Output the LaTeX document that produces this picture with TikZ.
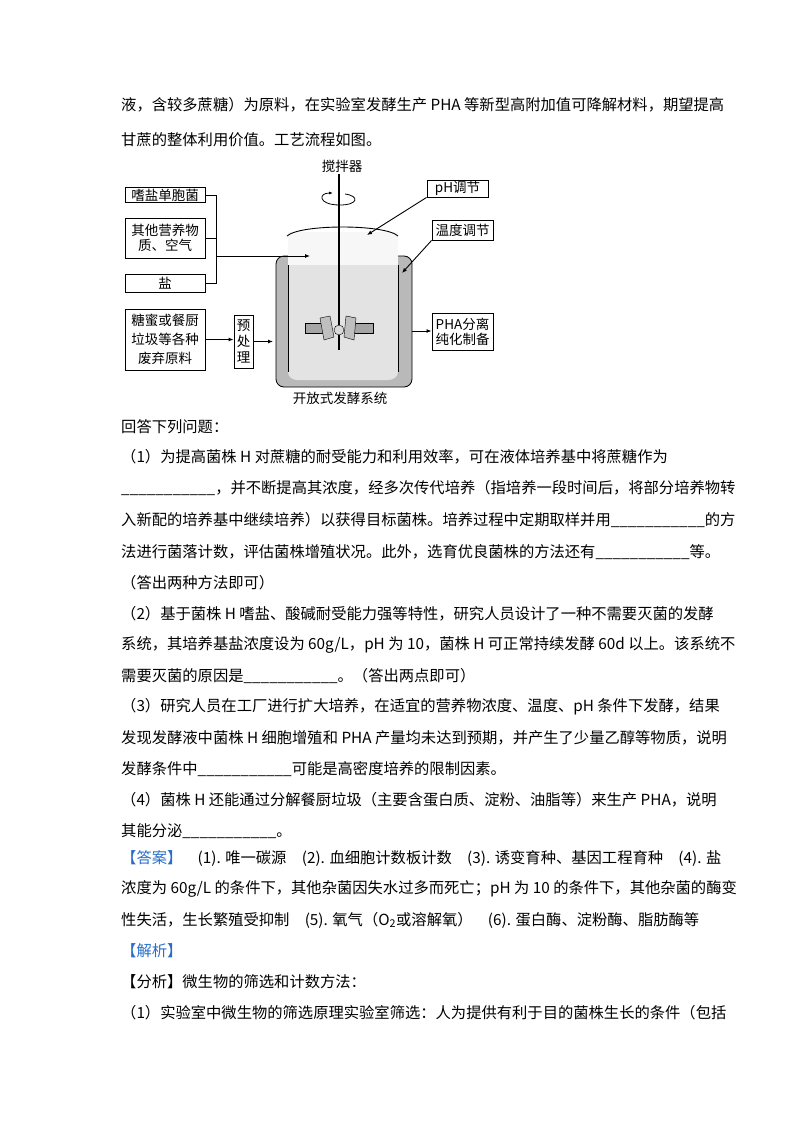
\documentclass[tikz,border=0pt]{standalone}
\usepackage{fontspec}
\setmainfont{Noto Sans CJK SC}
\newfontfamily\cjk{Noto Sans CJK SC}
\usetikzlibrary{arrows.meta}
\definecolor{ansblue}{RGB}{40,110,200}
\begin{document}
\begin{tikzpicture}[x=1pt,y=-1pt,
  line/.style={anchor=west,inner sep=0pt,font=\fontsize{15.3}{15}\selectfont},
  fbox/.style={draw,line width=0.9pt,inner sep=1pt,align=center,font=\fontsize{13.5}{15}\selectfont},
  arr/.style={-{Latex[length=5pt,width=4pt]},line width=0.9pt}]
\useasboundingbox (0,0) rectangle (800,1132);
\fill[white] (0,0) rectangle (800,1132);
% text lines
\node[line] (l1) at (121,105) {液，含较多蔗糖）为原料，在实验室发酵生产 PHA 等新型高附加值可降解材料，期望提高};
\node[line] (l2) at (121,140) {甘蔗的整体利用价值。工艺流程如图。};
\node[line] (l3) at (121,427) {回答下列问题：};
\node[line] (l4) at (121,457) {（1）为提高菌株 H 对蔗糖的耐受能力和利用效率，可在液体培养基中将蔗糖作为};
\node[line] (l5) at (121,488) {\_\_\_\_\_\_\_\_\_\_\_，并不断提高其浓度，经多次传代培养（指培养一段时间后，将部分培养物转};
\node[line] (l6) at (121,520) {入新配的培养基中继续培养）以获得目标菌株。培养过程中定期取样并用\_\_\_\_\_\_\_\_\_\_\_的方};
\node[line] (l7) at (121,552) {法进行菌落计数，评估菌株增殖状况。此外，选育优良菌株的方法还有\_\_\_\_\_\_\_\_\_\_\_等。};
\node[line] (l8) at (121,583) {（答出两种方法即可）};
\node[line] (l9) at (121,614) {（2）基于菌株 H 嗜盐、酸碱耐受能力强等特性，研究人员设计了一种不需要灭菌的发酵};
\node[line] (l10) at (121,645) {系统，其培养基盐浓度设为 60g/L，pH 为 10，菌株 H 可正常持续发酵 60d 以上。该系统不};
\node[line] (l11) at (121,676) {需要灭菌的原因是\_\_\_\_\_\_\_\_\_\_\_。（答出两点即可）};
\node[line] (l12) at (121,707) {（3）研究人员在工厂进行扩大培养，在适宜的营养物浓度、温度、pH 条件下发酵，结果};
\node[line] (l13) at (121,738) {发现发酵液中菌株 H 细胞增殖和 PHA 产量均未达到预期，并产生了少量乙醇等物质，说明};
\node[line] (l14) at (121,769) {发酵条件中\_\_\_\_\_\_\_\_\_\_\_可能是高密度培养的限制因素。};
\node[line] (l15) at (121,800) {（4）菌株 H 还能通过分解餐厨垃圾（主要含蛋白质、淀粉、油脂等）来生产 PHA，说明};
\node[line] (l16) at (121,831) {其能分泌\_\_\_\_\_\_\_\_\_\_\_。};
\node[line] (l17) at (121,858) {\textcolor{ansblue}{【答案】}\quad (1). 唯一碳源\quad (2). 血细胞计数板计数\quad (3). 诱变育种、基因工程育种\quad (4). 盐};
\node[line] (l18) at (121,889) {浓度为 60g/L 的条件下，其他杂菌因失水过多而死亡；pH 为 10 的条件下，其他杂菌的酶变};
\node[line] (l19) at (121,920) {性失活，生长繁殖受抑制\quad (5). 氧气（O\textsubscript{2}或溶解氧）\quad (6). 蛋白酶、淀粉酶、脂肪酶等};
\node[line] (l20) at (121,951) {\textcolor{ansblue}{【解析】}};
\node[line] (l21) at (121,982) {【分析】微生物的筛选和计数方法：};
\node[line] (l22) at (121,1013) {（1）实验室中微生物的筛选原理实验室筛选：人为提供有利于目的菌株生长的条件（包括};
% diagram
\node[fbox,minimum width=80pt,minimum height=15pt] (b1) at (165,195) {嗜盐单胞菌};
\node[fbox,minimum width=80pt,minimum height=40pt] (b2) at (165,238) {其他营养物\\质、空气};
\node[fbox,minimum width=80pt,minimum height=18pt] (b3) at (165,283) {盐};
\node[fbox,minimum width=80pt,minimum height=61pt,font=\fontsize{13.5}{19}\selectfont] (b4) at (165,339.5) {糖蜜或餐厨\\垃圾等各种\\废弃原料};
\node[fbox,minimum width=19pt,minimum height=53pt,text width=14pt,font=\fontsize{13.5}{16}\selectfont] (b5) at (243.5,341.5) {预\\处\\理};
\node[fbox,minimum width=61pt,minimum height=17pt] (b6) at (457.5,188.5) {pH调节};
\node[fbox,minimum width=61pt,minimum height=20pt] (b7) at (462.5,230) {温度调节};
\node[fbox,minimum width=61pt,minimum height=37pt] (b8) at (462.5,331.5) {PHA分离\\纯化制备};
% tank
\fill[gray!55,draw=black,line width=0.8pt,rounded corners=8pt] (276,256) rectangle (412,387);
\fill[gray!22] (288,265) -- (398,265) -- (398,372) to[out=-90,in=0] (388,380) -- (297,380) to[out=180,in=-90] (288,372) -- cycle;
\fill[gray!6] (288,232) rectangle (398,265);
\draw[line width=0.6pt] (288,265) -- (288,372) (398,265) -- (398,372);
\draw[line width=0.9pt] (287,236) .. controls (300,224) and (385,224) .. (398,236);
\coordinate (tanktop) at (310,256);
\coordinate (tankin) at (273,339);
\coordinate (tankout) at (412,331);
\coordinate (phpt) at (367,235);
\coordinate (tpt) at (402,273);
% stirrer
\node[font=\fontsize{13.5}{15}\selectfont] (stir) at (342,166) {搅拌器};
\draw[line width=2.2pt] (339,174) -- (339,350);
\draw[line width=0.8pt,-{Latex[length=4pt,width=3pt]}] (345,194) .. controls (360,196) and (358,205) .. (340,205) .. controls (318,205) and (318,193) .. (333,193);
% impeller
\fill[gray!70,draw=black,line width=0.4pt] (305,323) rectangle (330,333);
\fill[gray!70,draw=black,line width=0.4pt] (348,323) rectangle (373,333);
\fill[gray!50,draw=black,line width=0.4pt] (320,318) -- (330,316) -- (334,337) -- (324,340) -- cycle;
\fill[gray!50,draw=black,line width=0.4pt] (346,316) -- (356,318) -- (354,340) -- (344,337) -- cycle;
\fill[gray!30,draw=black,line width=0.4pt] (339,330) circle (5pt);
% connectors
\draw[line width=0.9pt] (b1.east) -- (216,195) -- (216,283) -- (b3.east);
\draw[line width=0.9pt] (b2.east) -- (216,238);
\draw[arr] (216,256) -- (tanktop);
\draw[arr] (b4.east) -- (b4.east -| b5.west);
\draw[arr] (b5.east) -- (b5.east -| tankin);
\draw[arr] (b6.south west) -- (phpt);
\draw[arr] (b7.south west) -- (tpt);
\draw[arr] (tankout) -- (tankout -| b8.west);
\node[font=\fontsize{13.5}{15}\selectfont] (cap) at (340,398) {开放式发酵系统};
\end{tikzpicture}
\end{document}
